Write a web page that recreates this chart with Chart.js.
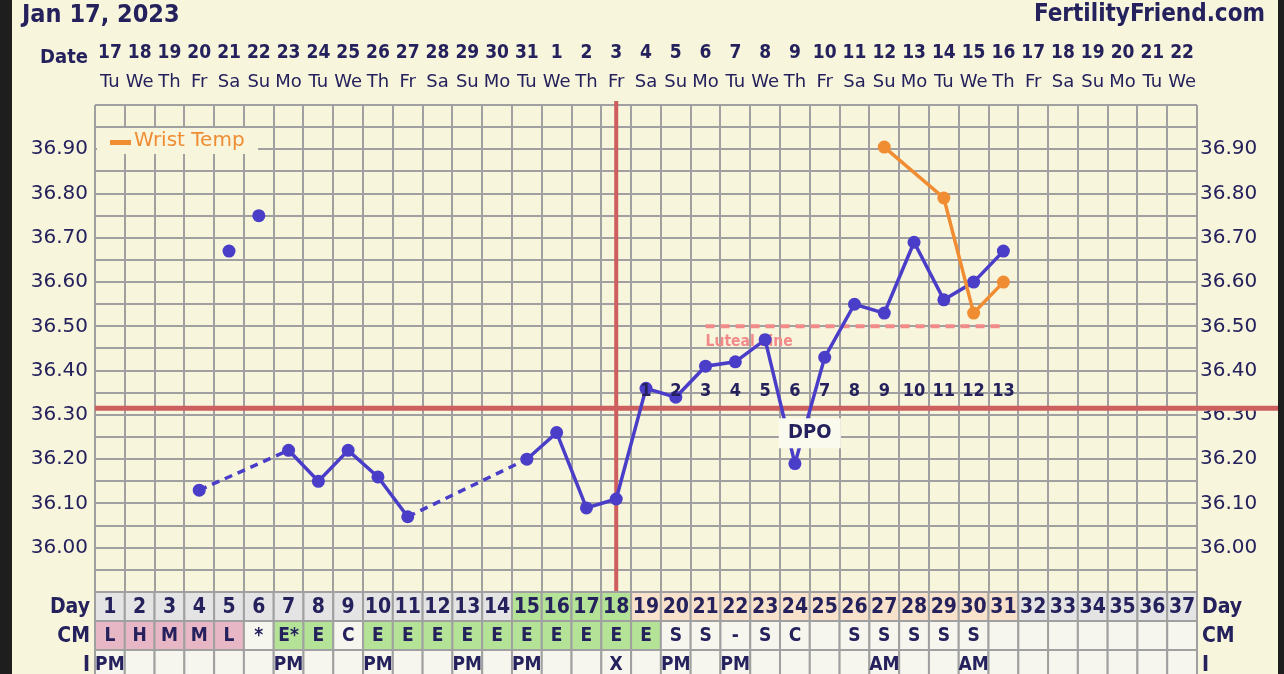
<!DOCTYPE html>
<html>
<head>
<meta charset="utf-8">
<script src="https://cdn.jsdelivr.net/npm/chart.js@4/dist/chart.umd.min.js"></script>
<style>
  html, body { margin: 0; padding: 0; background: #1e1e1e; }
  canvas { display: block; }
</style>
</head>
<body>
<canvas id="bbtChart" width="1284" height="674"></canvas>
<script>
// Chart data
const cycleDays = ["1","2","3","4","5","6","7","8","9","10","11","12","13","14","15","16","17","18","19",
  "20","21","22","23","24","25","26","27","28","29","30","31","32","33","34","35","36","37"];
const dateNums = [17,18,19,20,21,22,23,24,25,26,27,28,29,30,31,1,2,3,4,5,6,7,8,9,10,11,12,13,14,15,16,17,18,19,20,21,22];
const weekDays = ["Tu","We","Th","Fr","Sa","Su","Mo","Tu","We","Th","Fr","Sa","Su","Mo","Tu","We","Th","Fr","Sa",
  "Su","Mo","Tu","We","Th","Fr","Sa","Su","Mo","Tu","We","Th","Fr","Sa","Su","Mo","Tu","We"];

const bbtTemps = [null,null,null,36.13,null,null,36.22,36.15,36.22,36.16,36.07,null,null,null,36.20,36.26,36.09,36.11,
  36.36,36.34,36.41,36.42,36.47,36.19,36.43,36.55,36.53,36.69,36.56,36.60,36.67,null,null,null,null,null,null];
const discardedTemps = [null,null,null,null,36.67,36.75,null,null,null,null,null,null,null,null,null,null,null,null,
  null,null,null,null,null,null,null,null,null,null,null,null,null,null,null,null,null,null,null];
const wristTemps = [null,null,null,null,null,null,null,null,null,null,null,null,null,null,null,null,null,null,
  null,null,null,null,null,null,null,null,36.905,null,36.79,36.53,36.60,null,null,null,null,null,null];

const coverline = 36.315;
const ovulationDay = 18;
const lutealTemp = 36.50;
const lutealFrom = 21, lutealTo = 31;
const dpoFrom = 19, dpoTo = 31;

const yTickLabels = ["36.00","36.10","36.20","36.30","36.40","36.50","36.60","36.70","36.80","36.90"];
const yMin = 35.90, yMax = 37.00, yStep = 0.05;

const cmRow = ["L","H","M","M","L","*","E*","E","C","E","E","E","E","E","E","E","E","E","E","S","S","-","S","C","",
  "S","S","S","S","S","","","","","","",""];
const cmType = ["p","p","p","p","p","w","g","g","w","g","g","g","g","g","g","g","g","g","g","w","w","w","w","w","w",
  "w","w","w","w","w","w","w","w","w","w","w","w"];
const dayType = ["n","n","n","n","n","n","n","n","n","n","n","n","n","n","g","g","g","g","o","o","o","o","o","o","o",
  "o","o","o","o","o","o","n","n","n","n","n","n"];
const iRow = ["PM","","","","","","PM","","","PM","","","PM","","PM","","","X","","PM","","PM","","","","","AM","","",
  "AM","","","","","","",""];

// Styles
const CREAM = "#f7f5dc";
const NAVY = "#24215c";
const GRID = "#a0a0a0";
const RED = "#cd5f5f";
const BLUE = "#4a3dc8";
const ORANGE = "#f08d33";
const PINKLINE = "#f28a8a";
const COND = "'DejaVu Sans Condensed', 'DejaVu Sans', sans-serif";
const SANS = "'DejaVu Sans', sans-serif";
const cellColors = { n: "#e4e4e4", g: "#b4e398", o: "#f9e2cb", p: "#e8b7c6", w: "#f6f6ee" };

const lutealData = cycleDays.map((d, i) => (i + 1 >= lutealFrom && i + 1 <= lutealTo) ? lutealTemp : null);
const yGridValues = [];
for (let v = yMin; v <= yMax + 0.001; v += yStep) yGridValues.push(Math.round(v * 100) / 100);

function text(ctx, s, x, y, font, color, align) {
  ctx.font = font;
  ctx.fillStyle = color;
  ctx.textAlign = align || "center";
  ctx.textBaseline = "middle";
  ctx.fillText(s, x, y);
}

const tickLabel = v => {
  const s = v.toFixed(2);
  return yTickLabels.includes(s) ? s : "";
};

// Extra drawing for the fertility chart
const chartExtras = {
  id: "chartExtras",
  beforeDraw(chart) {
    const ctx = chart.ctx;
    ctx.save();
    ctx.fillStyle = "#1e1e1e";
    ctx.fillRect(0, 0, chart.width, chart.height);
    ctx.fillStyle = CREAM;
    ctx.fillRect(12, 0, chart.width - 18, chart.height);
    ctx.restore();
  },
  beforeDatasetsDraw(chart) {
    const { ctx, chartArea: a, scales: { x, y } } = chart;
    ctx.save();
    const cy = y.getPixelForValue(coverline);
    ctx.strokeStyle = RED;
    ctx.lineWidth = 5;
    ctx.beginPath();
    ctx.moveTo(a.left, cy);
    ctx.lineTo(chart.width - 6, cy);
    ctx.stroke();

    const ox = x.getPixelForValue(ovulationDay - 1);
    ctx.lineWidth = 4;
    ctx.beginPath();
    ctx.moveTo(ox, a.top - 4);
    ctx.lineTo(ox, a.bottom);
    ctx.stroke();

    const lx = x.getPixelForValue(lutealFrom - 1);
    const ly = y.getPixelForValue(lutealTemp);
    text(ctx, "Luteal Line", lx, ly + 16, "bold 15.5px " + COND, PINKLINE, "left");
    ctx.restore();
  },
  afterDatasetsDraw(chart) {
    const { ctx, chartArea: a, scales: { x, y } } = chart;
    ctx.save();
    const cy = y.getPixelForValue(coverline);
    for (let d = dpoFrom; d <= dpoTo; d++) {
      text(ctx, String(d - dpoFrom + 1), x.getPixelForValue(d - 1), cy - 17, "bold 18px " + COND, NAVY);
    }
    // DPO box
    const bx = (x.getPixelForValue(23) + x.getPixelForValue(24)) / 2;
    ctx.fillStyle = "#fbfaef";
    ctx.fillRect(bx - 31, cy + 10, 62, 30);
    text(ctx, "DPO", bx, cy + 25, "bold 20px " + COND, NAVY);

    // legend
    const lx = a.left + 2, ly = a.top + 23;
    ctx.fillStyle = CREAM;
    ctx.fillRect(lx, ly, 161, 26);
    ctx.fillStyle = ORANGE;
    ctx.fillRect(lx + 13, ly + 12, 21, 5);
    text(ctx, chart.data.datasets[2].label, lx + 37, ly + 13, "20px " + SANS, ORANGE, "left");
    ctx.restore();
  },
  afterDraw(chart) {
    const { ctx, chartArea: a, scales: { x } } = chart;
    const colW = x.width / cycleDays.length;
    ctx.save();
    // header
    text(ctx, "Jan 17, 2023", 22, 15, "bold 25px " + COND, NAVY, "left");
    text(ctx, "FertilityFriend.com", 1265, 15, "bold 24px " + COND, NAVY, "right");
    text(ctx, "Date", 88, 58, "bold 20px " + COND, NAVY, "right");
    cycleDays.forEach((d, i) => {
      const cx = x.getPixelForValue(i);
      text(ctx, String(dateNums[i]), cx, 53, "bold 19px " + COND, NAVY);
      text(ctx, weekDays[i], cx, 82, "18px " + SANS, NAVY);
    });

    // table
    const rowH = 29;
    const rows = [
      { vals: cycleDays, types: dayType, font: "bold 21px " + COND },
      { vals: cmRow, types: cmType, font: "bold 19px " + COND },
      { vals: iRow, types: null, font: "bold 19px " + COND }
    ];
    rows.forEach((row, r) => {
      const top = a.bottom + r * rowH;
      cycleDays.forEach((d, i) => {
        const left = x.getPixelForValue(i) - colW / 2;
        ctx.fillStyle = cellColors[row.types ? row.types[i] : "w"];
        ctx.fillRect(left, top, colW, rowH);
        ctx.strokeStyle = GRID;
        ctx.lineWidth = 2;
        ctx.strokeRect(left, top, colW, rowH);
        if (row.vals[i]) text(ctx, row.vals[i], left + colW / 2, top + rowH / 2 + 1, row.font, NAVY);
      });
    });
    const sideLabels = ["Day", "CM", "I"];
    sideLabels.forEach((s, r) => {
      const cyy = a.bottom + r * rowH + rowH / 2 + 1;
      text(ctx, s, a.left - 5, cyy, "bold 21px " + COND, NAVY, "right");
      text(ctx, s, a.right + 5, cyy, "bold 21px " + COND, NAVY, "left");
    });
    ctx.restore();
  }
};

const dashGaps = ctx => (ctx.p0.skip || ctx.p1.skip || ctx.p1DataIndex - ctx.p0DataIndex > 1) ? [8, 6] : undefined;

new Chart(document.getElementById("bbtChart"), {
  type: "line",
  data: {
    labels: cycleDays,
    datasets: [
      {
        label: "Temp",
        data: bbtTemps,
        borderColor: BLUE,
        backgroundColor: BLUE,
        borderWidth: 3.5,
        pointRadius: 6.5,
        pointBorderWidth: 0,
        spanGaps: true,
        segment: { borderDash: dashGaps },
        order: 1
      },
      {
        label: "Discarded",
        data: discardedTemps,
        showLine: false,
        borderColor: BLUE,
        backgroundColor: BLUE,
        pointRadius: 6.5,
        pointBorderWidth: 0,
        order: 1
      },
      {
        label: "Wrist Temp",
        data: wristTemps,
        borderColor: ORANGE,
        backgroundColor: ORANGE,
        borderWidth: 3.5,
        pointRadius: 6.5,
        pointBorderWidth: 0,
        spanGaps: true,
        order: 0
      },
      {
        label: "Luteal Line",
        data: lutealData,
        borderColor: PINKLINE,
        borderWidth: 4,
        borderDash: [9, 6],
        pointRadius: 0,
        order: 5
      }
    ]
  },
  options: {
    responsive: false,
    animation: false,
    layout: { padding: { top: 105, bottom: 82, left: 0, right: 0 } },
    plugins: { legend: { display: false }, tooltip: { enabled: false } },
    scales: {
      x: {
        offset: true,
        grid: { offset: true, color: GRID, lineWidth: 2, drawTicks: false },
        border: { color: GRID, width: 2 },
        ticks: { display: false },
        afterFit: s => { s.height = 0; }
      },
      y: {
        min: yMin, max: yMax,
        afterBuildTicks: s => { s.ticks = yGridValues.map(v => ({ value: v })); },
        afterFit: s => { s.width = 95; },
        grid: { color: GRID, lineWidth: 2, drawTicks: false },
        border: { display: false },
        ticks: { padding: 7, color: NAVY, font: { family: SANS, size: 20 }, callback: tickLabel, autoSkip: false }
      },
      y2: {
        position: "right",
        min: yMin, max: yMax,
        afterBuildTicks: s => { s.ticks = yGridValues.map(v => ({ value: v })); },
        afterFit: s => { s.width = 87; },
        grid: { display: false, drawTicks: false },
        border: { display: false },
        ticks: { padding: 3, color: NAVY, font: { family: SANS, size: 20 }, callback: tickLabel, autoSkip: false }
      }
    }
  },
  plugins: [chartExtras]
});
</script>
</body>
</html>
